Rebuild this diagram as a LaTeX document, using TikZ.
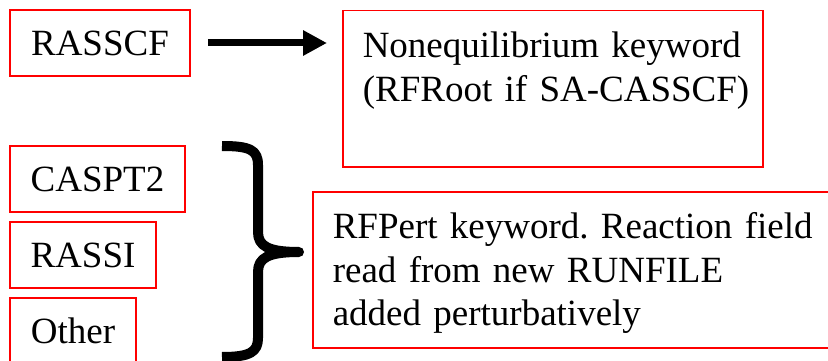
\documentclass[tikz,border=0pt]{standalone}
\usepackage{fontspec}
\setmainfont{Liberation Serif}
\usetikzlibrary{arrows.meta,positioning,calc}
\frenchspacing

\begin{document}
\begin{tikzpicture}[
		x=1pt,y=-1pt,
		>=Latex,
		every node/.style={font=\fontsize{37}{43.5}\selectfont},
		redbox/.style={draw=red, line width=1.5pt, inner sep=0pt, minimum height=66pt},
		textbox/.style={draw=red, line width=1.5pt, anchor=north west, align=left,
			inner xsep=20pt, inner ysep=21pt, text height=26pt, text depth=88pt}
		]
		
		\useasboundingbox (0,0) rectangle (828,361);
		
		% =========================
		% Left: modules
		% =========================
		\node[redbox, minimum width=180pt] (rasscf) at (100,43) {RASSCF};
		\node[redbox, minimum width=175pt] (caspt2) at (97.5,179) {CASPT2};
		\node[redbox, minimum width=146pt] (rassi) at (83,255) {RASSI};
		\node[redbox, minimum width=126pt] (other) at (73,331) {Other};
		
		% =========================
		% Right: keywords
		% =========================
		\node[textbox, text width=380pt] (noneq) at (342,10)
		{\mbox{Nonequilibrium keyword}\\\mbox{(RFRoot if SA-CASSCF)}};
		
		\node[textbox, text width=490pt] (rfpert) at (312,191)
		{RFPert keyword. Reaction field\\read from new RUNFILE\\added perturbatively};
		
		% arrow and brace
		\draw[line width=7pt, -{Triangle[length=24pt,width=24pt]},
		shorten <=17pt, shorten >=15pt] (rasscf.east) -- (rasscf.east -| noneq.west);
		
		\draw[line width=10pt, line join=round]
		(222,146) .. controls (250,146) and (258,150) .. (258,165) -- (258,232)
		.. controls (258,246) and (268,252) .. (299,252)
		.. controls (268,252) and (258,258) .. (258,272) -- (258,338)
		.. controls (258,352) and (250,357) .. (222,357);
		
	\end{tikzpicture}
\end{document}
